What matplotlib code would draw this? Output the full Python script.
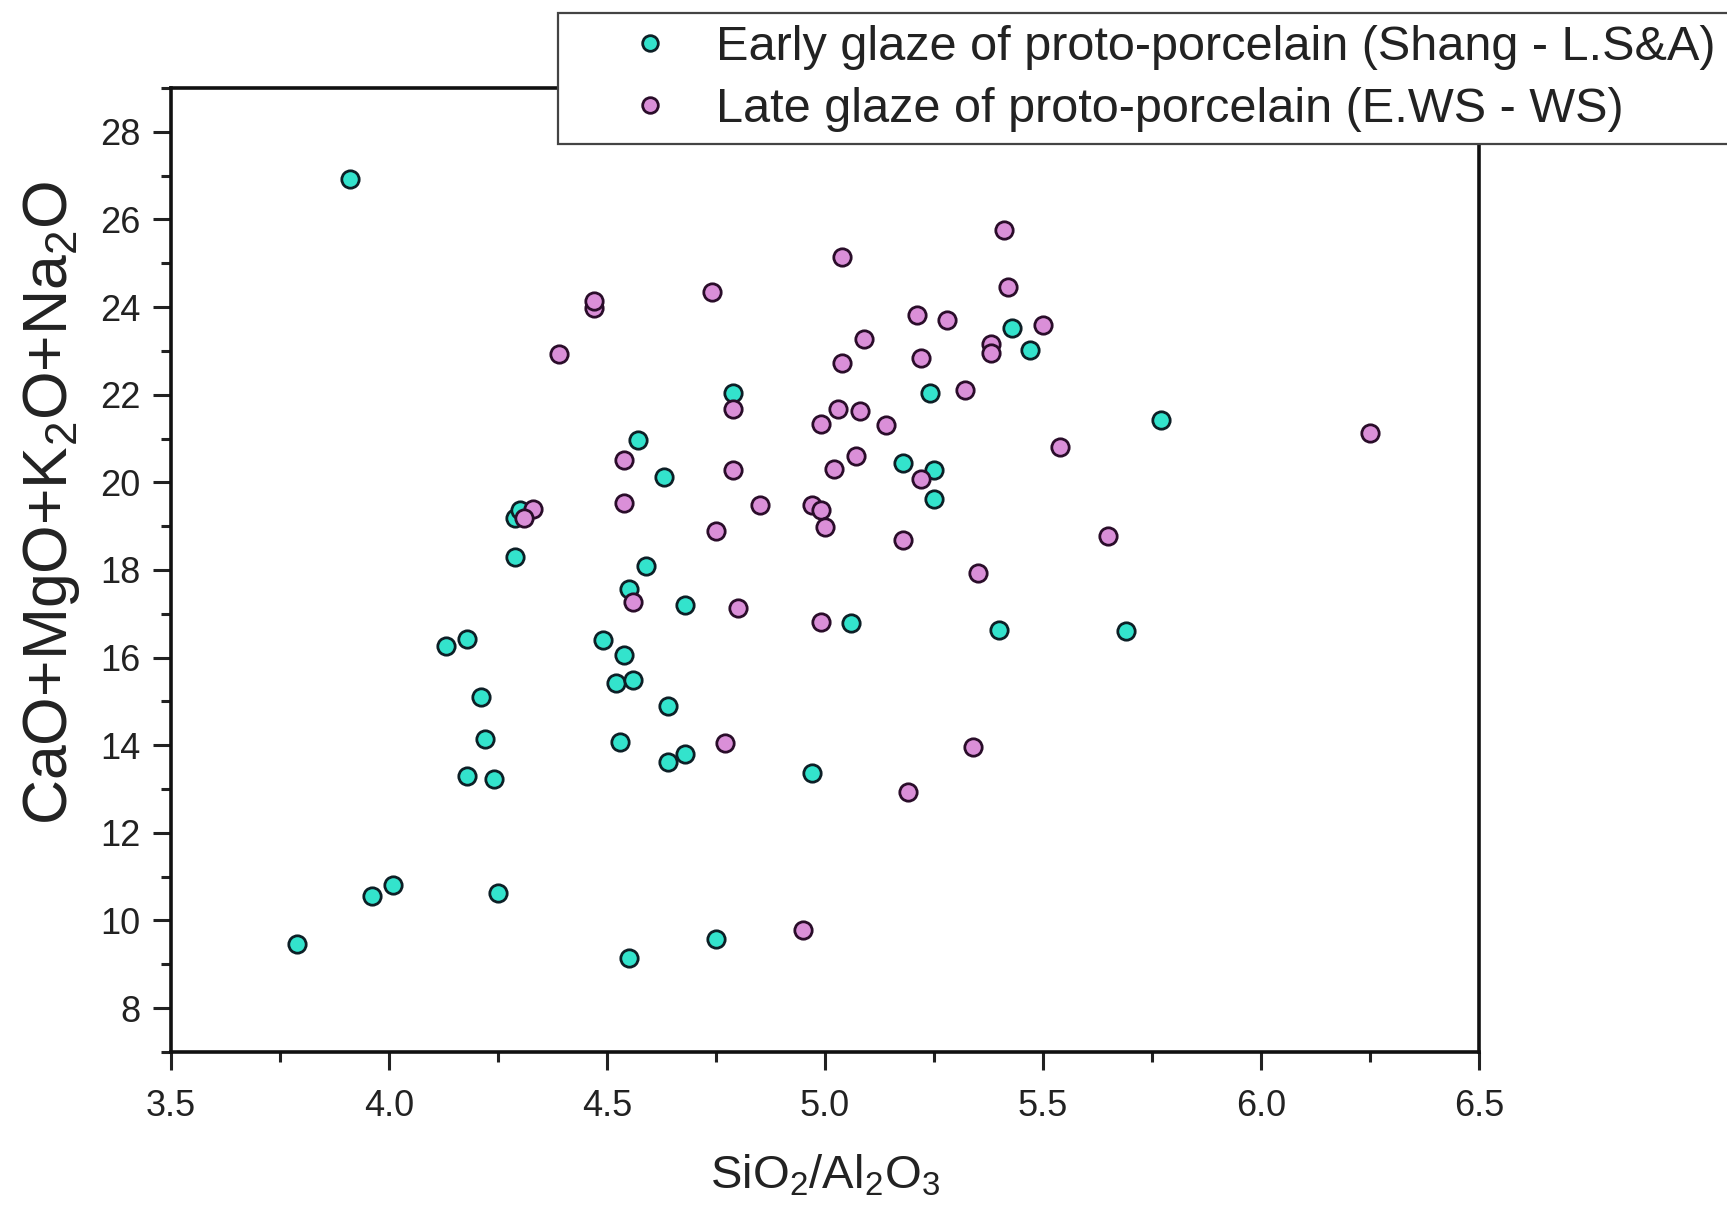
import matplotlib
matplotlib.use("Agg")
import matplotlib.pyplot as plt
from matplotlib.ticker import MultipleLocator, FormatStrFormatter

plt.rcParams["font.family"] = ["Liberation Sans", "DejaVu Sans"]
plt.rcParams["mathtext.fontset"] = "custom"
plt.rcParams["mathtext.rm"] = "Liberation Sans"

# Early glaze (Shang - L.S&A)
early_x = [3.91, 3.79, 3.96, 4.01, 4.25, 4.13, 4.18, 4.21, 4.22, 4.18, 4.24,
           4.29, 4.29, 4.30, 4.57, 4.63, 4.59, 4.55, 4.68, 4.49, 4.54, 4.52,
           4.56, 4.64, 4.53, 4.64, 4.68, 4.55, 4.75, 4.79, 4.97, 5.06, 5.18,
           5.25, 5.25, 5.24, 5.43, 5.47, 5.40, 5.69, 5.77]
early_y = [26.92, 9.46, 10.56, 10.81, 10.63, 16.26, 16.43, 15.10, 14.15, 13.30,
           13.22, 18.29, 19.19, 19.37, 20.97, 20.12, 18.09, 17.56, 17.21, 16.41,
           16.06, 15.43, 15.48, 14.90, 14.07, 13.62, 13.80, 9.15, 9.58, 22.03,
           13.37, 16.78, 20.45, 20.27, 19.62, 22.03, 23.53, 23.01, 16.63, 16.61,
           21.43]

# Late glaze (E.WS - WS)
late_x = [4.47, 4.47, 4.39, 4.74, 5.04, 5.41, 5.42, 5.21, 5.28, 5.09, 5.50,
          5.38, 5.38, 5.04, 5.22, 5.32, 4.79, 5.03, 5.08, 4.99, 5.14, 5.54,
          6.25, 4.54, 4.79, 5.07, 5.02, 5.22, 4.33, 4.31, 4.54, 4.85, 4.97,
          4.99, 5.00, 4.75, 5.18, 5.65, 5.35, 4.56, 4.80, 4.99, 4.77, 5.34,
          5.19, 4.95]
late_y = [23.98, 24.14, 22.93, 24.34, 25.14, 25.77, 24.46, 23.81, 23.71, 23.28,
          23.58, 23.16, 22.96, 22.73, 22.83, 22.10, 21.68, 21.68, 21.63, 21.33,
          21.30, 20.80, 21.12, 20.50, 20.27, 20.60, 20.30, 20.07, 19.39, 19.19,
          19.52, 19.49, 19.49, 19.37, 18.99, 18.89, 18.69, 18.77, 17.94, 17.26,
          17.13, 16.81, 14.05, 13.95, 12.94, 9.78]

labels = ["Early glaze of proto-porcelain (Shang - L.S&A)",
          "Late glaze of proto-porcelain (E.WS - WS)"]

fig = plt.figure(figsize=(17.27, 12.16), dpi=100)
ax = fig.add_axes([0.099, 0.135, 0.7574, 0.7926])

ax.plot(early_x, early_y, "o", ms=12.5, mfc="#33E3CC", mec="#0d1f26", mew=2.0,
        label=labels[0])
ax.plot(late_x, late_y, "o", ms=12.5, mfc="#DA8FD8", mec="#2a0d2a", mew=2.0,
        label=labels[1])

ax.set_xlim(3.5, 6.5)
ax.set_ylim(7, 29)
ax.xaxis.set_major_locator(MultipleLocator(0.5))
ax.xaxis.set_minor_locator(MultipleLocator(0.25))
ax.xaxis.set_major_formatter(FormatStrFormatter("%.1f"))
ax.yaxis.set_major_locator(MultipleLocator(2))
ax.yaxis.set_minor_locator(MultipleLocator(1))
ax.tick_params(which="both", direction="out", width=2.2, labelsize=26,
               colors="#222222")
ax.tick_params(which="major", length=13, pad=9)
ax.tick_params(which="minor", length=7)
ax.tick_params(axis="x", which="major", pad=14)
for s in ax.spines.values():
    s.set_linewidth(2.6)
    s.set_color("#111111")

ax.set_xlabel(r"SiO$_2$/Al$_2$O$_3$", fontsize=34, color="#222222")
ax.set_ylabel(r"CaO+MgO+K$_2$O+Na$_2$O", fontsize=45, color="#222222")
ax.xaxis.set_label_coords(0.5, -0.105)
ax.yaxis.set_label_coords(-0.068, 0.57)

leg = fig.legend(loc="upper left", bbox_to_anchor=(558 / 1727, 1 - 13 / 1216, 0.7, 0.0),
                 mode="expand", fontsize=35, frameon=True, fancybox=False,
                 borderpad=0.25, labelspacing=0.35, handlelength=3.3,
                 handletextpad=-0.29, borderaxespad=0.0, markerscale=0.9)
leg.get_frame().set_edgecolor("#444444")
leg.get_frame().set_linewidth(1.6)
leg.get_frame().set_alpha(1.0)
for t in leg.get_texts():
    t.set_color("#222222")

fig.savefig("out.png", dpi=100)
